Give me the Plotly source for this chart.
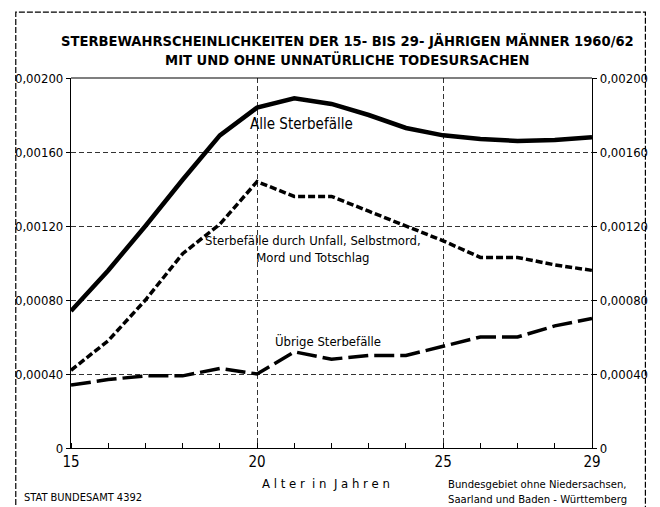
import plotly.graph_objects as go

ages = list(range(15, 30))
alle = [0.00074, 0.00096, 0.00120, 0.00145, 0.00169, 0.00184, 0.00189, 0.00186,
        0.00180, 0.00173, 0.00169, 0.00167, 0.00166, 0.001665, 0.00168]
unfall = [0.00042, 0.00058, 0.00080, 0.00105, 0.00121, 0.00144, 0.00136, 0.00136,
          0.00128, 0.00120, 0.00112, 0.00103, 0.00103, 0.00099, 0.00096]
uebrige = [0.00034, 0.00037, 0.00039, 0.00039, 0.00043, 0.00040, 0.00052, 0.00048,
           0.00050, 0.00050, 0.00055, 0.00060, 0.00060, 0.00066, 0.00070]

y_ticks = [0, 0.0004, 0.0008, 0.0012, 0.0016, 0.0020]
y_labels = ["0", "0,00040", "0,00080", "0,00120", "0,00160", "0,00200"]
x_ticks = [15, 20, 25, 29]
x_labels = ["15", "20", "25", "29"]

FONT = "Liberation Sans Narrow, DejaVu Sans Condensed, DejaVu Sans, sans-serif"

fig = go.Figure()
fig.add_trace(go.Scatter(x=ages, y=alle, mode="lines",
                         line=dict(color="black", width=4.5), showlegend=False))
fig.add_trace(go.Scatter(x=ages, y=unfall, mode="lines",
                         line=dict(color="black", width=3.5, dash="7px,3px"), showlegend=False))
fig.add_trace(go.Scatter(x=ages, y=uebrige, mode="lines",
                         line=dict(color="black", width=3.5, dash="20px,6px"), showlegend=False))
# invisible trace for right axis
fig.add_trace(go.Scatter(x=[15], y=[0], yaxis="y2", mode="markers",
                         marker=dict(opacity=0), showlegend=False, hoverinfo="skip"))

axis_common = dict(showline=True, linecolor="black", linewidth=1.2, mirror=False,
                   gridcolor="#333", griddash="5px,3px", gridwidth=0.8,
                   zeroline=False)

fig.update_layout(
    width=660, height=507,
    margin=dict(l=71, r=62, t=78, b=59),
    paper_bgcolor="white", plot_bgcolor="white",
    font=dict(family=FONT, color="black", size=12),
    xaxis=dict(range=[15, 29], tickvals=x_ticks, ticktext=x_labels,
               ticks="", showgrid=True, tickfont=dict(size=15),
               minor=dict(dtick=1, tick0=15, ticks="inside", ticklen=5,
                          tickcolor="black", showgrid=False),
               **axis_common),
    yaxis=dict(range=[0, 0.002], tickvals=y_ticks, ticktext=y_labels,
               ticks="outside", ticklen=4, tickcolor="black",
               showgrid=True, tickfont=dict(size=13), **axis_common),
    yaxis2=dict(range=[0, 0.002], tickvals=y_ticks, ticktext=y_labels,
                overlaying="y", side="right", ticks="outside", ticklen=4,
                tickcolor="black", showgrid=False, tickfont=dict(size=13),
                showline=True, linecolor="black", linewidth=1.2, zeroline=False),
)

# top border of plot area
fig.add_shape(type="line", xref="paper", yref="paper", x0=0, x1=1, y0=1, y1=1,
              line=dict(color="black", width=1.2))

# outer dashed frame
fig.add_shape(type="rect", xref="paper", yref="paper",
              x0=-0.106, x1=1.1025, y0=-0.2, y1=1.178,
              line=dict(color="black", width=1.2, dash="6px,2px"))

ann = []
ann.append(dict(text="<b>STERBEWAHRSCHEINLICHKEITEN DER 15- BIS 29- JÄHRIGEN MÄNNER 1960/62<br>"
                     "MIT UND OHNE UNNATÜRLICHE TODESURSACHEN</b>",
                xref="paper", yref="paper", x=0.531, y=1.076, yanchor="middle",
                showarrow=False, font=dict(size=14.6)))
ann.append(dict(text="Alle Sterbefälle", x=21.2, y=0.00175, xref="x", yref="y",
                showarrow=False, font=dict(size=15)))
ann.append(dict(text="Sterbefälle durch Unfall, Selbstmord,<br>Mord und Totschlag",
                x=21.5, y=0.001076, xref="x", yref="y", showarrow=False,
                font=dict(size=13), align="center"))
ann.append(dict(text="Übrige Sterbefälle", x=21.9, y=0.00058, xref="x", yref="y",
                showarrow=False, font=dict(size=13)))
ann.append(dict(text="A l t e r  i n  J a h r e n", xref="paper", yref="paper",
                x=0.49, y=-0.097, yanchor="middle", showarrow=False, font=dict(size=13)))
ann.append(dict(text="Bundesgebiet ohne Niedersachsen,<br>Saarland und Baden - Württemberg",
                xref="paper", yref="paper", x=0.719, y=-0.12, xanchor="left",
                yanchor="middle", showarrow=False, font=dict(size=11.2), align="left"))
ann.append(dict(text="STAT BUNDESAMT 4392", xref="paper", yref="paper",
                x=-0.095, y=-0.135, xanchor="left", yanchor="middle", showarrow=False,
                font=dict(size=11)))
fig.update_layout(annotations=ann)

fig.write_html("out.html", post_script="document.body.style.margin='0px';",
               config={"displayModeBar": False})
